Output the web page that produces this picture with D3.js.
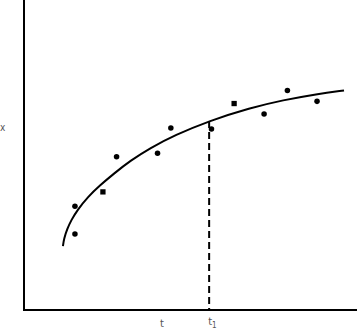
<!DOCTYPE html>
<html>
<head>
<meta charset="utf-8">
<script src="https://cdn.jsdelivr.net/npm/d3@7"></script>
<style>
  body { margin: 0; background: #fff; }
  .lbl { font-family: "Liberation Sans Narrow", "DejaVu Sans Condensed", sans-serif; fill: #555; }
</style>
</head>
<body>
<div class="chart"></div>
<script>
var svgWidth = 357;
var svgHeight = 332;

var chartMargin = { top: 0, right: 0, bottom: 22, left: 24 };

// measured points (t, x)
var pointT = [1.53, 1.53, 2.37, 2.78, 4.01, 4.41, 5.63, 6.31, 7.21, 7.91, 8.80];
var pointX = [3.35, 2.45, 3.81, 4.94, 5.06, 5.87, 5.84, 6.66, 6.32, 7.08, 6.73];
var pointShape = ["circle", "circle", "square", "circle", "circle", "circle", "circle", "square", "circle", "circle", "circle"];

// fitted curve
var curveT = [1.17, 1.20, 1.30, 1.42, 1.60, 1.92, 2.28, 2.70, 3.20, 3.78, 4.53, 5.56, 6.79, 7.78, 8.80, 9.61];
var curveX = [2.06, 2.30, 2.62, 2.90, 3.22, 3.65, 4.02, 4.40, 4.82, 5.22, 5.64, 6.10, 6.52, 6.77, 6.97, 7.08];

var t1 = 5.56;
var t1Value = 6.10;
var tLabelPos = 4.14;

var width = svgWidth - chartMargin.left - chartMargin.right;
var height = svgHeight - chartMargin.top - chartMargin.bottom;

var svg = d3.select(".chart")
  .append("svg")
  .attr("width", svgWidth)
  .attr("height", svgHeight);

var chart = svg.append("g")
  .attr("transform", "translate(" + chartMargin.left + "," + chartMargin.top + ")");

var xScale = d3.scaleLinear().domain([0, 10]).range([0, width]);
var yScale = d3.scaleLinear().domain([0, 10]).range([height, 0]);

// axes (plain lines, no ticks)
chart.append("line")
  .attr("x1", 0).attr("x2", 0)
  .attr("y1", 0).attr("y2", height + 1)
  .attr("stroke", "#000").attr("stroke-width", 2);
chart.append("line")
  .attr("x1", -1).attr("x2", width)
  .attr("y1", height).attr("y2", height)
  .attr("stroke", "#000").attr("stroke-width", 2);

// fitted curve
var curveData = curveT.map(function(t, i) { return { t: t, x: curveX[i] }; });
var line = d3.line()
  .x(function(d) { return xScale(d.t); })
  .y(function(d) { return yScale(d.x); })
  .curve(d3.curveBasis);

chart.append("path")
  .datum(curveData)
  .attr("d", line)
  .attr("fill", "none")
  .attr("stroke", "#000")
  .attr("stroke-width", 2);

// dashed line at t1
chart.append("line")
  .attr("x1", xScale(t1)).attr("x2", xScale(t1))
  .attr("y1", yScale(t1Value)).attr("y2", yScale(0))
  .attr("stroke", "#000")
  .attr("stroke-width", 2)
  .attr("stroke-dasharray", "7,4");

// points
var pts = pointT.map(function(t, i) { return { t: t, x: pointX[i], shape: pointShape[i] }; });
chart.selectAll(".pt")
  .data(pts)
  .enter()
  .append("path")
  .attr("class", "pt")
  .attr("transform", function(d) { return "translate(" + xScale(d.t) + "," + yScale(d.x) + ")"; })
  .attr("d", function(d) {
    return d3.symbol().type(d.shape == "square" ? d3.symbolSquare : d3.symbolCircle).size(d.shape == "square" ? 28 : 24)();
  })
  .attr("fill", "#000");

// labels
svg.append("text")
  .attr("class", "lbl")
  .attr("x", 0).attr("y", 131)
  .attr("font-size", 10)
  .text("x");

chart.append("text")
  .attr("class", "lbl")
  .attr("x", xScale(tLabelPos)).attr("y", height + 17)
  .attr("text-anchor", "middle")
  .attr("font-size", 11)
  .text("t");

var t1Label = chart.append("text")
  .attr("class", "lbl")
  .attr("x", xScale(t1) - 1).attr("y", height + 15)
  .attr("font-size", 11)
  .text("t");
t1Label.append("tspan")
  .attr("dy", 3)
  .attr("font-size", 8)
  .text("1");
</script>
</body>
</html>
